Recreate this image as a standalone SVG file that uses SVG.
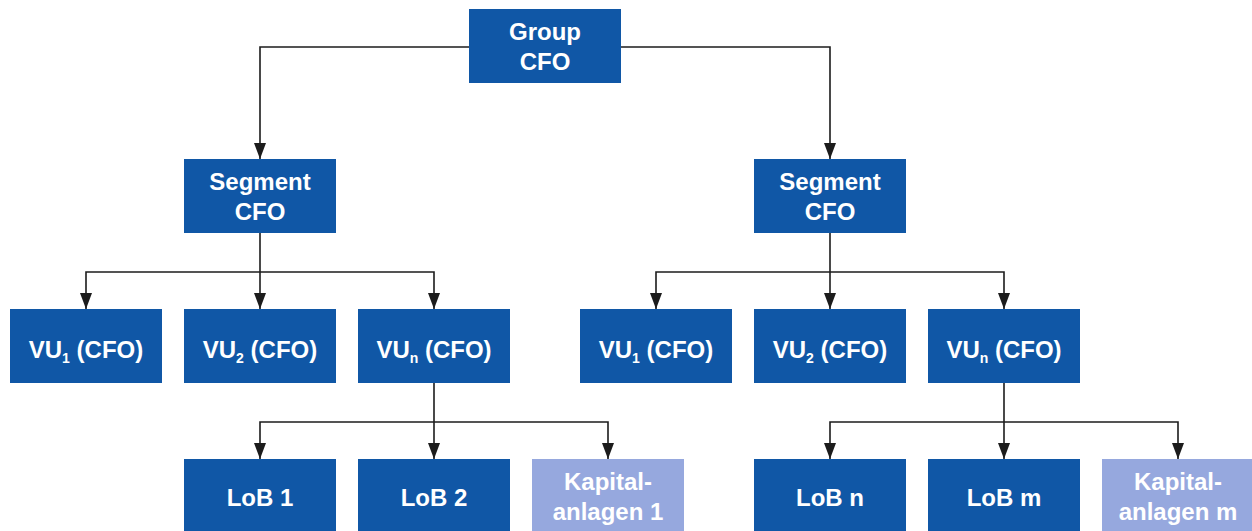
<svg xmlns="http://www.w3.org/2000/svg" width="1252" height="531" viewBox="0 0 1252 531">
<style>
.n{fill:#1057a6}
.k{fill:#96a8de}
.t{font-family:"Liberation Sans",Arial,sans-serif;font-weight:bold;font-size:24px;fill:#fff;text-anchor:middle}
.s{font-size:14px}
.c{fill:none;stroke:#1c1c1c;stroke-width:1.6}
</style>
<defs>
<marker id="a" markerUnits="userSpaceOnUse" markerWidth="17" markerHeight="14" viewBox="0 0 17 14" refX="16" refY="7" orient="auto">
<path d="M0,1 L16,7 L0,13 Z" fill="#1c1c1c"/>
</marker>
</defs>
<rect width="1252" height="531" fill="#fff"/>
<g id="connectors">
<path class="c" d="M469,47 H260 V159" marker-end="url(#a)"/>
<path class="c" d="M621,47 H830 V159" marker-end="url(#a)"/>
<path class="c" d="M260,233 V309" marker-end="url(#a)"/>
<path class="c" d="M260,272 H86 V309" marker-end="url(#a)"/>
<path class="c" d="M260,272 H434 V309" marker-end="url(#a)"/>
<path class="c" d="M830,233 V309" marker-end="url(#a)"/>
<path class="c" d="M830,272 H656 V309" marker-end="url(#a)"/>
<path class="c" d="M830,272 H1004 V309" marker-end="url(#a)"/>
<path class="c" d="M434,383 V459" marker-end="url(#a)"/>
<path class="c" d="M434,422 H260 V459" marker-end="url(#a)"/>
<path class="c" d="M434,422 H608 V459" marker-end="url(#a)"/>
<path class="c" d="M1004,383 V459" marker-end="url(#a)"/>
<path class="c" d="M1004,422 H830 V459" marker-end="url(#a)"/>
<path class="c" d="M1004,422 H1178 V459" marker-end="url(#a)"/>
</g>
<g id="group-cfo"><rect class="n" x="469" y="9" width="152" height="74"/><text class="t" x="545" y="40">Group</text><text class="t" x="545" y="70">CFO</text></g>
<g id="segment-cfo-1"><rect class="n" x="184" y="159" width="152" height="74"/><text class="t" x="260" y="190">Segment</text><text class="t" x="260" y="220">CFO</text></g>
<g id="segment-cfo-2"><rect class="n" x="754" y="159" width="152" height="74"/><text class="t" x="830" y="190">Segment</text><text class="t" x="830" y="220">CFO</text></g>
<g id="vu1-l"><rect class="n" x="10" y="309" width="152" height="74"/><text class="t" x="86" y="358">VU<tspan class="s" dy="5">1</tspan><tspan dy="-5"> (CFO)</tspan></text></g>
<g id="vu2-l"><rect class="n" x="184" y="309" width="152" height="74"/><text class="t" x="260" y="358">VU<tspan class="s" dy="5">2</tspan><tspan dy="-5"> (CFO)</tspan></text></g>
<g id="vun-l"><rect class="n" x="358" y="309" width="152" height="74"/><text class="t" x="434" y="358">VU<tspan class="s" dy="5">n</tspan><tspan dy="-5"> (CFO)</tspan></text></g>
<g id="vu1-r"><rect class="n" x="580" y="309" width="152" height="74"/><text class="t" x="656" y="358">VU<tspan class="s" dy="5">1</tspan><tspan dy="-5"> (CFO)</tspan></text></g>
<g id="vu2-r"><rect class="n" x="754" y="309" width="152" height="74"/><text class="t" x="830" y="358">VU<tspan class="s" dy="5">2</tspan><tspan dy="-5"> (CFO)</tspan></text></g>
<g id="vun-r"><rect class="n" x="928" y="309" width="152" height="74"/><text class="t" x="1004" y="358">VU<tspan class="s" dy="5">n</tspan><tspan dy="-5"> (CFO)</tspan></text></g>
<g id="lob1"><rect class="n" x="184" y="459" width="152" height="74"/><text class="t" x="260" y="506">LoB 1</text></g>
<g id="lob2"><rect class="n" x="358" y="459" width="152" height="74"/><text class="t" x="434" y="506">LoB 2</text></g>
<g id="kap1"><rect class="k" x="532" y="459" width="152" height="74"/><text class="t" x="608" y="490">Kapital-</text><text class="t" x="608" y="520">anlagen 1</text></g>
<g id="lobn"><rect class="n" x="754" y="459" width="152" height="74"/><text class="t" x="830" y="506">LoB n</text></g>
<g id="lobm"><rect class="n" x="928" y="459" width="152" height="74"/><text class="t" x="1004" y="506">LoB m</text></g>
<g id="kapm"><rect class="k" x="1102" y="459" width="152" height="74"/><text class="t" x="1178" y="490">Kapital-</text><text class="t" x="1178" y="520">anlagen m</text></g>
</svg>
